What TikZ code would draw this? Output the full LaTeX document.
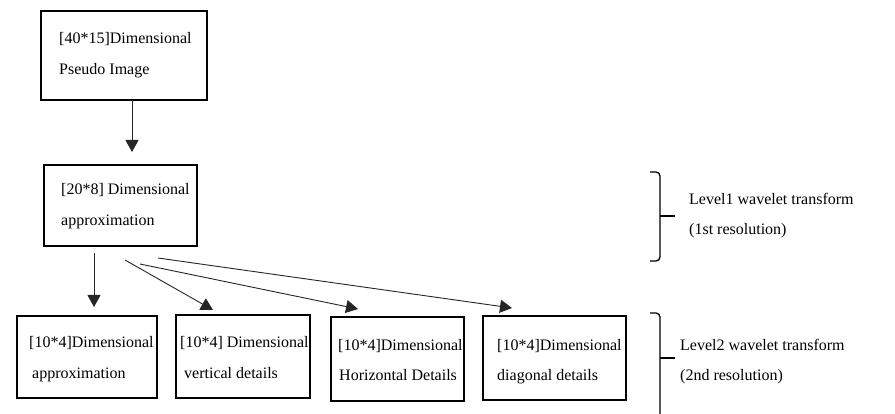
\documentclass[tikz,border=0pt]{standalone}
\usepackage{fontspec}
\setmainfont{Liberation Serif}
\usetikzlibrary{arrows.meta,calc}
\begin{document}
\begin{tikzpicture}[x=1pt,y=-1pt,
  box/.style={draw=black,line width=2pt,rectangle,inner sep=0pt},
  txt/.style={inner sep=0pt,anchor=base west,font=\fontsize{16}{19}\selectfont},
  arr/.style={draw=black!85,line width=0.9pt,-{Triangle[length=12pt,width=13pt]}},
  bracestyle/.style={draw=black,line width=1.3pt,rounded corners=4pt}]
\useasboundingbox[fill=white] (0,0) rectangle (895,414);
% boxes
\node[box,minimum width=166pt,minimum height=89pt] (b1) at (124,55.5) {};
\node[box,minimum width=153pt,minimum height=81pt] (b2) at (120.5,205.5) {};
\node[box,minimum width=140pt,minimum height=82pt] (bA) at (87,357) {};
\node[box,minimum width=134pt,minimum height=83pt] (bB) at (243,356.5) {};
\node[box,minimum width=133pt,minimum height=84pt] (bC) at (397.5,359) {};
\node[box,minimum width=143pt,minimum height=84pt] (bD) at (554.5,358) {};
% texts
\node[txt] (t1a) at (59,44) {[40*15]Dimensional};
\node[txt] (t1b) at (59,75) {Pseudo Image};
\node[txt] (t2a) at (61,195) {[20*8] Dimensional};
\node[txt] (t2b) at (61,226) {approximation};
\node[txt] (tAa) at (29,348) {[10*4]Dimensional};
\node[txt] (tAb) at (32,378) {approximation};
\node[txt] (tBa) at (180,348) {[10*4] Dimensional};
\node[txt] (tBb) at (184,378) {vertical details};
\node[txt] (tCa) at (338,350) {[10*4]Dimensional};
\node[txt] (tCb) at (339,380) {Horizontal Details};
\node[txt] (tDa) at (497,350) {[10*4]Dimensional};
\node[txt] (tDb) at (497,380) {diagonal details};
\node[txt] (l1a) at (689,205) {Level1 wavelet transform};
\node[txt] (l1b) at (689,235) {(1st resolution)};
\node[txt] (l2a) at (680,350) {Level2 wavelet transform};
\node[txt] (l2b) at (680,380) {(2nd resolution)};
% arrows
\draw[arr] ($(b1.south)+(8,-1)$) -- ($(b2.north)+(11.5,-12)$);
\draw[arr] ($(b2.south)+(-26.5,6)$) -- ($(bA.north)+(7,-8)$);
\draw[arr] ($(b2.south)+(4.5,13)$) -- ($(bB.north)+(-30,-4)$);
\draw[arr] ($(b2.south)+(19.5,17)$) -- ($(bC.north)+(-39.5,-7)$);
\draw[arr] ($(b2.south)+(37.5,11)$) -- ($(bD.north)+(-42.5,-7)$);
% braces
\coordinate (br1t) at (650,172);
\coordinate (br1b) at (650,261);
\coordinate (br1m) at (660,216);
\coordinate (br1e) at (675,216);
\draw[bracestyle] (br1t) -- (660,172) -- (660,261) -- (br1b);
\draw[line width=1.3pt] (br1m) -- (br1e);
\coordinate (br2t) at (650,313);
\coordinate (br2m) at (660,358);
\coordinate (br2e) at (675,358);
\draw[bracestyle] (br2t) -- (660,313) -- (660,416);
\draw[line width=1.3pt] (br2m) -- (br2e);
\end{tikzpicture}
\end{document}
